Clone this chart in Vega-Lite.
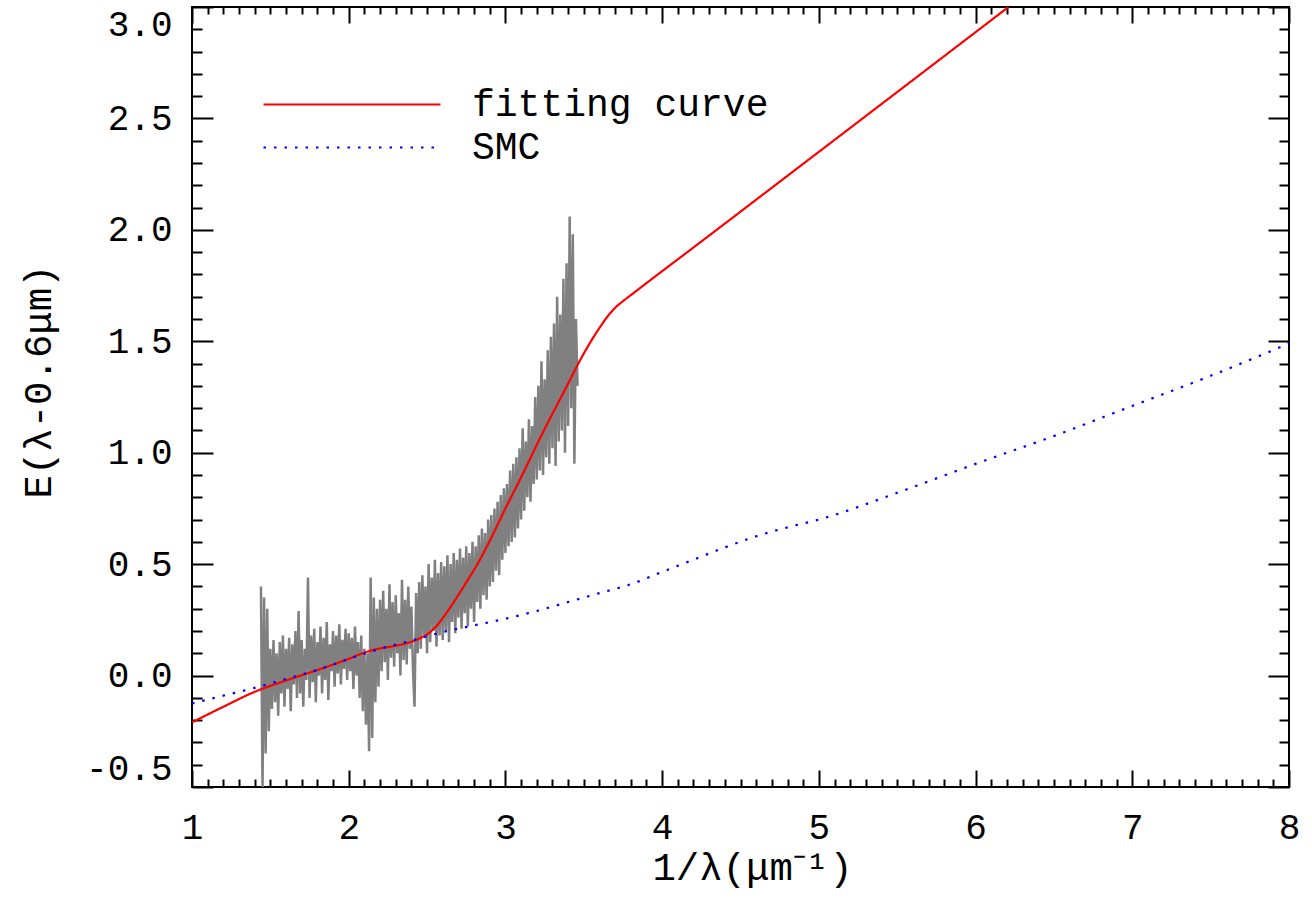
{
  "$schema": "https://vega.github.io/schema/vega-lite/v6.json",
  "width": 1097,
  "height": 780,
  "autosize": "none",
  "padding": {"left": 192, "top": 7, "right": 23, "bottom": 115},
  "background": "white",
  "config": {
    "view": {"stroke": "black", "strokeWidth": 2},
    "font": "Liberation Mono",
    "axis": {
      "domain": false, "grid": false, "tickColor": "black", "tickWidth": 2,
      "labelColor": "black", "titleColor": "black",
      "labelFont": "Liberation Mono", "titleFont": "Liberation Mono",
      "labelFontSize": 36, "titleFontSize": 39, "titleFontWeight": "normal",
      "labelOverlap": false
    },
    "legend": {
      "orient": "none", "legendX": 70, "legendY": 76, "title": null,
      "symbolType": "stroke", "symbolSize": 31329, "symbolStrokeWidth": 2.2,
      "labelFont": "Liberation Mono", "labelFontSize": 38, "labelColor": "black", "labelLimit": 0,
      "labelOffset": 30, "clipHeight": 43, "rowPadding": 0, "padding": 0
    }
  },
  "resolve": {"scale": {"x": "independent", "y": "independent"}, "axis": {"x": "independent", "y": "independent"}},
  "layer": [
    {
      "data": {"values": [
        {"x":1.44,"y":0.40},{"x":1.45,"y":-0.50},{"x":1.46,"y":0.35},{"x":1.47,"y":-0.35},{"x":1.48,"y":0.30},{"x":1.49,"y":-0.25},{"x":1.50,"y":0.12},
        {"x":1.51,"y":-0.15},{"x":1.52,"y":0.16},{"x":1.53,"y":-0.12},{"x":1.54,"y":0.10},{"x":1.55,"y":-0.18},{"x":1.56,"y":0.15},{"x":1.57,"y":-0.08},{"x":1.58,"y":0.18},{"x":1.59,"y":-0.14},{"x":1.60,"y":0.12},
        {"x":1.61,"y":-0.06},{"x":1.62,"y":0.17},{"x":1.63,"y":-0.16},{"x":1.64,"y":0.14},{"x":1.65,"y":-0.04},{"x":1.66,"y":0.20},{"x":1.67,"y":-0.10},{"x":1.68,"y":0.29},{"x":1.69,"y":-0.08},{"x":1.70,"y":0.16},
        {"x":1.71,"y":-0.14},{"x":1.72,"y":0.12},{"x":1.73,"y":-0.02},{"x":1.74,"y":0.44},{"x":1.75,"y":-0.10},{"x":1.76,"y":0.18},{"x":1.77,"y":-0.03},{"x":1.78,"y":0.21},{"x":1.79,"y":-0.12},{"x":1.80,"y":0.15},
        {"x":1.81,"y":0.00},{"x":1.82,"y":0.22},{"x":1.83,"y":-0.08},{"x":1.84,"y":0.17},{"x":1.85,"y":-0.02},{"x":1.86,"y":0.24},{"x":1.87,"y":-0.11},{"x":1.88,"y":0.14},{"x":1.89,"y":0.02},{"x":1.90,"y":0.20},
        {"x":1.91,"y":-0.05},{"x":1.92,"y":0.18},{"x":1.93,"y":0.01},{"x":1.94,"y":0.23},{"x":1.95,"y":-0.04},{"x":1.96,"y":0.16},{"x":1.97,"y":0.03},{"x":1.98,"y":0.21},{"x":1.99,"y":-0.02},{"x":2.00,"y":0.19},
        {"x":2.01,"y":0.02},{"x":2.02,"y":0.17},{"x":2.03,"y":-0.06},{"x":2.04,"y":0.22},{"x":2.05,"y":0.00},{"x":2.06,"y":0.15},{"x":2.07,"y":-0.10},{"x":2.08,"y":0.18},{"x":2.09,"y":-0.16},{"x":2.10,"y":0.12},
        {"x":2.11,"y":-0.22},{"x":2.12,"y":0.10},{"x":2.13,"y":-0.34},{"x":2.14,"y":0.44},{"x":2.15,"y":-0.28},{"x":2.16,"y":0.35},{"x":2.17,"y":-0.12},{"x":2.18,"y":0.30},{"x":2.19,"y":-0.05},{"x":2.20,"y":0.34},
        {"x":2.21,"y":0.02},{"x":2.22,"y":0.38},{"x":2.23,"y":0.06},{"x":2.24,"y":0.30},{"x":2.25,"y":-0.02},{"x":2.26,"y":0.41},{"x":2.27,"y":0.08},{"x":2.28,"y":0.33},{"x":2.29,"y":0.04},{"x":2.30,"y":0.36},
        {"x":2.31,"y":0.10},{"x":2.32,"y":0.28},{"x":2.33,"y":0.00},{"x":2.34,"y":0.43},{"x":2.35,"y":0.07},{"x":2.36,"y":0.34},{"x":2.37,"y":0.05},{"x":2.38,"y":0.40},{"x":2.39,"y":0.12},{"x":2.40,"y":0.31},
        {"x":2.41,"y":0.03},{"x":2.42,"y":-0.14},{"x":2.43,"y":0.37},{"x":2.44,"y":0.10},{"x":2.45,"y":0.42},{"x":2.46,"y":0.12},{"x":2.47,"y":0.45},{"x":2.48,"y":0.18},{"x":2.49,"y":0.40},{"x":2.50,"y":0.10},
        {"x":2.51,"y":0.50},{"x":2.52,"y":0.15},{"x":2.53,"y":0.44},{"x":2.54,"y":0.20},{"x":2.55,"y":0.52},{"x":2.56,"y":0.13},{"x":2.57,"y":0.46},{"x":2.58,"y":0.18},{"x":2.59,"y":0.51},{"x":2.60,"y":0.16},
        {"x":2.61,"y":0.49},{"x":2.62,"y":0.20},{"x":2.63,"y":0.54},{"x":2.64,"y":0.15},{"x":2.65,"y":0.50},{"x":2.66,"y":0.24},{"x":2.67,"y":0.55},{"x":2.68,"y":0.19},{"x":2.69,"y":0.52},{"x":2.70,"y":0.26},
        {"x":2.71,"y":0.57},{"x":2.72,"y":0.21},{"x":2.73,"y":0.53},{"x":2.74,"y":0.28},{"x":2.75,"y":0.58},{"x":2.76,"y":0.22},{"x":2.77,"y":0.55},{"x":2.78,"y":0.30},{"x":2.79,"y":0.60},{"x":2.80,"y":0.24},
        {"x":2.81,"y":0.58},{"x":2.82,"y":0.33},{"x":2.83,"y":0.63},{"x":2.84,"y":0.30},{"x":2.85,"y":0.66},{"x":2.86,"y":0.36},{"x":2.87,"y":0.64},{"x":2.88,"y":0.34},{"x":2.89,"y":0.70},{"x":2.90,"y":0.40},
        {"x":2.91,"y":0.72},{"x":2.92,"y":0.42},{"x":2.93,"y":0.75},{"x":2.94,"y":0.47},{"x":2.95,"y":0.78},{"x":2.96,"y":0.45},{"x":2.97,"y":0.81},{"x":2.98,"y":0.52},{"x":2.99,"y":0.84},{"x":3.00,"y":0.55},
        {"x":3.01,"y":0.86},{"x":3.02,"y":0.58},{"x":3.03,"y":0.92},{"x":3.04,"y":0.60},{"x":3.05,"y":0.95},{"x":3.06,"y":0.62},{"x":3.07,"y":0.98},{"x":3.08,"y":0.66},{"x":3.09,"y":1.02},{"x":3.10,"y":0.70},
        {"x":3.11,"y":1.11},{"x":3.12,"y":0.74},{"x":3.13,"y":1.05},{"x":3.14,"y":0.80},{"x":3.15,"y":1.15},{"x":3.16,"y":0.78},{"x":3.17,"y":1.12},{"x":3.18,"y":0.86},{"x":3.19,"y":1.25},{"x":3.20,"y":0.88},
        {"x":3.21,"y":1.30},{"x":3.22,"y":0.92},{"x":3.23,"y":1.41},{"x":3.24,"y":0.90},{"x":3.25,"y":1.33},{"x":3.26,"y":0.98},{"x":3.27,"y":1.46},{"x":3.28,"y":0.95},{"x":3.29,"y":1.52},{"x":3.30,"y":1.02},
        {"x":3.31,"y":1.58},{"x":3.32,"y":0.94},{"x":3.33,"y":1.70},{"x":3.34,"y":1.05},{"x":3.35,"y":1.62},{"x":3.36,"y":1.10},{"x":3.37,"y":1.78},{"x":3.38,"y":1.00},{"x":3.39,"y":1.85},{"x":3.40,"y":1.12},
        {"x":3.41,"y":2.06},{"x":3.42,"y":1.20},{"x":3.43,"y":1.98},{"x":3.44,"y":0.95},{"x":3.45,"y":1.60},{"x":3.46,"y":1.30}
      ]},
      "mark": {"type": "line", "color": "#808080", "strokeWidth": 2.5, "clip": true},
      "encoding": {
        "x": {
          "field": "x", "type": "quantitative",
          "scale": {"domain": [1, 8], "nice": false, "zero": false},
          "axis": {
            "orient": "bottom", "title": "1/λ(μm⁻¹)",
            "values": [1,1.1,1.2,1.3,1.4,1.5,1.6,1.7,1.8,1.9,2,2.1,2.2,2.3,2.4,2.5,2.6,2.7,2.8,2.9,3,3.1,3.2,3.3,3.4,3.5,3.6,3.7,3.8,3.9,4,4.1,4.2,4.3,4.4,4.5,4.6,4.7,4.8,4.9,5,5.1,5.2,5.3,5.4,5.5,5.6,5.7,5.8,5.9,6,6.1,6.2,6.3,6.4,6.5,6.6,6.7,6.8,6.9,7,7.1,7.2,7.3,7.4,7.5,7.6,7.7,7.8,7.9,8],
            "tickSize": {"condition": {"test": "abs(datum.value - round(datum.value)) < 0.001", "value": -17}, "value": -8},
            "labelExpr": "abs(datum.value - round(datum.value)) < 0.001 ? format(datum.value, 'd') : ''",
            "labelFlush": false, "labelPadding": 40,
            "titleX": 560, "titleY": 80, "titleBaseline": "middle", "titleAlign": "center"
          }
        },
        "y": {
          "field": "y", "type": "quantitative",
          "scale": {"domain": [-0.5, 3], "nice": false, "zero": false},
          "axis": {
            "orient": "left", "title": "E(λ-0.6μm)",
            "values": [-0.5,-0.4,-0.3,-0.2,-0.1,0,0.1,0.2,0.3,0.4,0.5,0.6,0.7,0.8,0.9,1,1.1,1.2,1.3,1.4,1.5,1.6,1.7,1.8,1.9,2,2.1,2.2,2.3,2.4,2.5,2.6,2.7,2.8,2.9,3],
            "tickSize": {"condition": {"test": "abs(datum.value*2 - round(datum.value*2)) < 0.001", "value": -21}, "value": -10},
            "labelExpr": "abs(datum.value*2 - round(datum.value*2)) < 0.001 ? (datum.value < -0.001 ? '-' : '') + format(abs(datum.value), '.1f') : ''",
            "labelFlush": true, "labelPadding": 41,
            "titleX": -154, "titleY": 374, "titleAngle": -90, "titleBaseline": "middle", "titleAlign": "center"
          }
        }
      }
    },
    {
      "data": {"values": [
        {"series":"fitting curve","x":1.0,"y":-0.21},{"series":"fitting curve","x":1.2,"y":-0.14},{"series":"fitting curve","x":1.4,"y":-0.073},{"series":"fitting curve","x":1.6,"y":-0.022},
        {"series":"fitting curve","x":1.8,"y":0.025},{"series":"fitting curve","x":2.0,"y":0.075},{"series":"fitting curve","x":2.1,"y":0.103},{"series":"fitting curve","x":2.2,"y":0.122},
        {"series":"fitting curve","x":2.3,"y":0.134},{"series":"fitting curve","x":2.4,"y":0.152},{"series":"fitting curve","x":2.45,"y":0.166},{"series":"fitting curve","x":2.5,"y":0.185},
        {"series":"fitting curve","x":2.55,"y":0.215},{"series":"fitting curve","x":2.6,"y":0.258},{"series":"fitting curve","x":2.65,"y":0.308},{"series":"fitting curve","x":2.7,"y":0.362},
        {"series":"fitting curve","x":2.75,"y":0.418},{"series":"fitting curve","x":2.8,"y":0.475},{"series":"fitting curve","x":2.85,"y":0.537},{"series":"fitting curve","x":2.9,"y":0.605},
        {"series":"fitting curve","x":3.0,"y":0.75},{"series":"fitting curve","x":3.1,"y":0.89},{"series":"fitting curve","x":3.2,"y":1.035},{"series":"fitting curve","x":3.3,"y":1.175},
        {"series":"fitting curve","x":3.4,"y":1.31},{"series":"fitting curve","x":3.45,"y":1.38},{"series":"fitting curve","x":3.5,"y":1.445},{"series":"fitting curve","x":3.55,"y":1.505},{"series":"fitting curve","x":3.6,"y":1.56},
        {"series":"fitting curve","x":3.65,"y":1.61},{"series":"fitting curve","x":3.7,"y":1.65},{"series":"fitting curve","x":3.75,"y":1.68},{"series":"fitting curve","x":3.8,"y":1.707},{"series":"fitting curve","x":3.9,"y":1.761},
        {"series":"fitting curve","x":4.2,"y":1.921},{"series":"fitting curve","x":5.0,"y":2.35},{"series":"fitting curve","x":6.21,"y":3.0},
        {"series":"SMC","x":1.0,"y":-0.125},{"series":"SMC","x":1.2,"y":-0.09},{"series":"SMC","x":1.4,"y":-0.055},{"series":"SMC","x":1.6,"y":-0.015},
        {"series":"SMC","x":1.8,"y":0.025},{"series":"SMC","x":2.0,"y":0.075},{"series":"SMC","x":2.2,"y":0.12},{"series":"SMC","x":2.4,"y":0.157},
        {"series":"SMC","x":2.6,"y":0.195},{"series":"SMC","x":2.8,"y":0.225},{"series":"SMC","x":3.0,"y":0.255},{"series":"SMC","x":3.2,"y":0.29},
        {"series":"SMC","x":3.4,"y":0.33},{"series":"SMC","x":3.6,"y":0.37},{"series":"SMC","x":3.8,"y":0.41},{"series":"SMC","x":4.0,"y":0.465},
        {"series":"SMC","x":4.2,"y":0.52},{"series":"SMC","x":4.4,"y":0.575},{"series":"SMC","x":4.6,"y":0.625},{"series":"SMC","x":4.8,"y":0.665},
        {"series":"SMC","x":5.0,"y":0.70},{"series":"SMC","x":5.5,"y":0.82},{"series":"SMC","x":6.0,"y":0.95},{"series":"SMC","x":6.5,"y":1.075},
        {"series":"SMC","x":7.0,"y":1.21},{"series":"SMC","x":7.5,"y":1.345},{"series":"SMC","x":8.0,"y":1.49}
      ]},
      "mark": {"type": "line", "strokeWidth": 2.2, "clip": true, "interpolate": "monotone"},
      "encoding": {
        "x": {
          "field": "x", "type": "quantitative",
          "scale": {"domain": [1, 8], "nice": false, "zero": false},
          "axis": {
            "orient": "top", "title": null, "labels": false,
            "values": [1,1.1,1.2,1.3,1.4,1.5,1.6,1.7,1.8,1.9,2,2.1,2.2,2.3,2.4,2.5,2.6,2.7,2.8,2.9,3,3.1,3.2,3.3,3.4,3.5,3.6,3.7,3.8,3.9,4,4.1,4.2,4.3,4.4,4.5,4.6,4.7,4.8,4.9,5,5.1,5.2,5.3,5.4,5.5,5.6,5.7,5.8,5.9,6,6.1,6.2,6.3,6.4,6.5,6.6,6.7,6.8,6.9,7,7.1,7.2,7.3,7.4,7.5,7.6,7.7,7.8,7.9,8],
            "tickSize": {"condition": {"test": "abs(datum.value - round(datum.value)) < 0.001", "value": -16}, "value": -7}
          }
        },
        "y": {
          "field": "y", "type": "quantitative",
          "scale": {"domain": [-0.5, 3], "nice": false, "zero": false},
          "axis": {
            "orient": "right", "title": null, "labels": false,
            "values": [-0.5,-0.4,-0.3,-0.2,-0.1,0,0.1,0.2,0.3,0.4,0.5,0.6,0.7,0.8,0.9,1,1.1,1.2,1.3,1.4,1.5,1.6,1.7,1.8,1.9,2,2.1,2.2,2.3,2.4,2.5,2.6,2.7,2.8,2.9,3],
            "tickSize": {"condition": {"test": "abs(datum.value*2 - round(datum.value*2)) < 0.001", "value": -21}, "value": -10}
          }
        },
        "color": {
          "field": "series", "type": "nominal",
          "scale": {"domain": ["fitting curve", "SMC"], "range": ["#ff0000", "#0000ff"]},
          "legend": {"title": null}
        },
        "strokeDash": {
          "field": "series", "type": "nominal",
          "scale": {"domain": ["fitting curve", "SMC"], "range": [[1, 0], [2.5, 8]]},
          "legend": {"title": null}
        }
      }
    }
  ]
}
